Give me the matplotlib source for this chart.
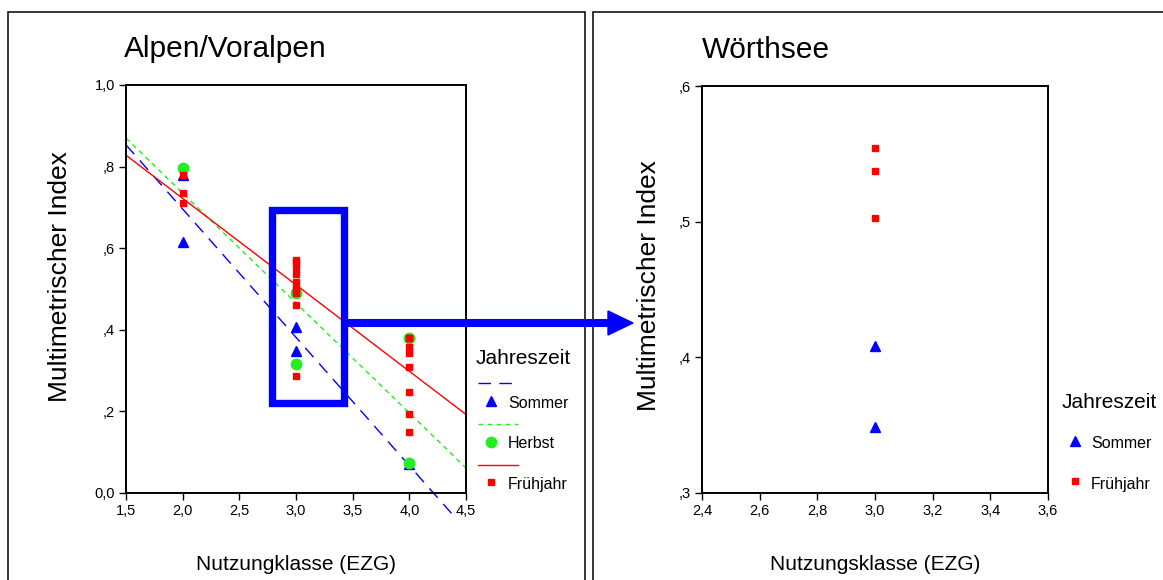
import numpy as np
import matplotlib
matplotlib.use("Agg")
import matplotlib.pyplot as plt
from matplotlib.lines import Line2D
from matplotlib.patches import Rectangle, Polygon

plt.rcParams["font.family"] = ["Liberation Sans", "DejaVu Sans"]

# -------- DATA --------
# Alpen/Voralpen
sommer_x = [2, 2, 3, 3, 4]
sommer_y = [0.780, 0.615, 0.408, 0.349, 0.070]
herbst_x = [2, 3, 3, 4, 4]
herbst_y = [0.797, 0.491, 0.316, 0.381, 0.073]
fruehjahr_x = [2, 2, 2,
               3, 3, 3, 3, 3, 3, 3, 3, 3, 3,
               4, 4, 4, 4, 4, 4, 4, 4, 4]
fruehjahr_y = [0.780, 0.735, 0.710,
               0.571, 0.565, 0.554, 0.537, 0.518, 0.503, 0.497, 0.491, 0.460, 0.287,
               0.381, 0.381, 0.381, 0.359, 0.344, 0.308, 0.247, 0.194, 0.149]

# Woerthsee
w_sommer_x = [3, 3]
w_sommer_y = [0.408, 0.349]
w_fruehjahr_x = [3, 3, 3]
w_fruehjahr_y = [0.554, 0.537, 0.503]

left_xticks = [1.5, 2.0, 2.5, 3.0, 3.5, 4.0, 4.5]
left_xlabels = ["1,5", "2,0", "2,5", "3,0", "3,5", "4,0", "4,5"]
left_yticks = [0.0, 0.2, 0.4, 0.6, 0.8, 1.0]
left_ylabels = ["0,0", ",2", ",4", ",6", ",8", "1,0"]
right_xticks = [2.4, 2.6, 2.8, 3.0, 3.2, 3.4, 3.6]
right_xlabels = ["2,4", "2,6", "2,8", "3,0", "3,2", "3,4", "3,6"]
right_yticks = [0.3, 0.4, 0.5, 0.6]
right_ylabels = [",3", ",4", ",5", ",6"]

BLUE = "#0000ff"
GREEN = "#22ee22"
RED = "#ff0000"

W, H = 1163, 580


def fx(px):
    return px / W


def fy(py):
    return 1 - py / H


fig = plt.figure(figsize=(W / 100, H / 100), dpi=100)
fig.patch.set_facecolor("white")

# -------- PANEL FRAMES --------
fig.add_artist(Rectangle((fx(8), fy(620)), fx(585) - fx(8), fy(12) - fy(620),
                         transform=fig.transFigure, fill=False, lw=1.1,
                         edgecolor="black"))
fig.add_artist(Rectangle((fx(593), fy(620)), fx(1190) - fx(593), fy(12) - fy(620),
                         transform=fig.transFigure, fill=False, lw=1.1,
                         edgecolor="black"))


def style_axes(ax):
    for s in ax.spines.values():
        s.set_linewidth(1.4)
    ax.tick_params(direction="out", length=5, width=1.0, labelsize=10.5,
                   top=False, right=False, pad=3)


# -------- LEFT PANEL --------
ax1 = fig.add_axes([fx(126), fy(493), fx(466) - fx(126), fy(85) - fy(493)])
style_axes(ax1)
ax1.set_xlim(1.5, 4.5)
ax1.set_ylim(0, 1.0)
ax1.set_xticks(left_xticks)
ax1.set_xticklabels(left_xlabels)
ax1.set_yticks(left_yticks)
ax1.set_yticklabels(left_ylabels)

# linear fits per season
m, b = np.polyfit(sommer_x, sommer_y, 1)
x_end = min(4.5, (-0.05 - b) / m)
xs = np.array([1.5, x_end])
ax1.plot(xs, m * xs + b, color=BLUE, lw=1.0, dashes=(9, 6), clip_on=False, zorder=2)

m, b = np.polyfit(herbst_x, herbst_y, 1)
xs = np.array([1.5, 4.5])
ax1.plot(xs, m * xs + b, color=GREEN, lw=1.0, dashes=(3.5, 3), zorder=2)

m, b = np.polyfit(fruehjahr_x, fruehjahr_y, 1)
ax1.plot(xs, m * xs + b, color=RED, lw=1.0, zorder=2)

ax1.plot(sommer_x, sommer_y, "^", color=BLUE, ms=7, mec=BLUE, zorder=3)
ax1.plot(herbst_x, herbst_y, "o", color=GREEN, ms=7.5, mec=GREEN, zorder=4)
ax1.plot(fruehjahr_x, fruehjahr_y, "s", color=RED, ms=5, mec=RED, zorder=5)

ax1.set_xlabel("Nutzungklasse (EZG)", fontsize=15)
ax1.xaxis.set_label_coords(0.5, -0.152)
ax1.set_ylabel("Multimetrischer Index", fontsize=19)
ax1.yaxis.set_label_coords(-0.159, 0.53)

# highlight box around x = 3
ax1.add_patch(Rectangle((2.786, 0.221), 3.421 - 2.786, 0.693 - 0.221,
                        fill=False, edgecolor=BLUE, lw=5.3, clip_on=False,
                        joinstyle="miter", zorder=6))

# -------- RIGHT PANEL --------
ax2 = fig.add_axes([fx(702), fy(493), fx(1048) - fx(702), fy(86) - fy(493)])
style_axes(ax2)
ax2.set_xlim(2.4, 3.6)
ax2.set_ylim(0.3, 0.6)
ax2.set_xticks(right_xticks)
ax2.set_xticklabels(right_xlabels)
ax2.set_yticks(right_yticks)
ax2.set_yticklabels(right_ylabels)

ax2.plot(w_sommer_x, w_sommer_y, "^", color=BLUE, ms=7, mec=BLUE, zorder=3)
ax2.plot(w_fruehjahr_x, w_fruehjahr_y, "s", color=RED, ms=5, mec=RED, zorder=5)

ax2.set_xlabel("Nutzungsklasse (EZG)", fontsize=15)
ax2.xaxis.set_label_coords(0.5, -0.152)
ax2.set_ylabel("Multimetrischer Index", fontsize=19)
ax2.yaxis.set_label_coords(-0.118, 0.51)

# -------- TITLES --------
fig.text(fx(124), fy(49), "Alpen/Voralpen", fontsize=21.5, ha="left", va="center")
fig.text(fx(702), fy(50), "Wörthsee", fontsize=21.5, ha="left", va="center")

# -------- ARROW --------
fig.add_artist(Line2D([fx(347), fx(610)], [fy(323), fy(323)], color=BLUE,
                      lw=5.8, solid_capstyle="butt", transform=fig.transFigure))
fig.add_artist(Polygon([(fx(608), fy(311)), (fx(633), fy(323)), (fx(608), fy(335))],
                       closed=True, color=BLUE, transform=fig.transFigure))

# -------- LEGENDS --------
def legend_line(x0, x1, y, **kw):
    fig.add_artist(Line2D([fx(x0), fx(x1)], [fy(y), fy(y)],
                          transform=fig.transFigure, lw=1.0, **kw))


def legend_marker(x, y, marker, color, ms):
    fig.add_artist(Line2D([fx(x)], [fy(y)], marker=marker, color=color, mec=color,
                          ms=ms, linestyle="none", transform=fig.transFigure))


fig.text(fx(476), fy(359), "Jahreszeit", fontsize=15, ha="left", va="center")
legend_line(478, 518, 383, color=BLUE, dashes=(9, 6))
legend_marker(491, 401, "^", BLUE, 7)
fig.text(fx(508), fy(404), "Sommer", fontsize=11.5, ha="left", va="center")
legend_line(478, 518, 424, color=GREEN, dashes=(3.5, 3))
legend_marker(491, 442, "o", GREEN, 7.5)
fig.text(fx(508), fy(444), "Herbst", fontsize=11.5, ha="left", va="center")
legend_line(478, 518, 465, color=RED)
legend_marker(491, 482, "s", RED, 5)
fig.text(fx(508), fy(485), "Frühjahr", fontsize=11.5, ha="left", va="center")

fig.text(fx(1062), fy(402), "Jahreszeit", fontsize=15, ha="left", va="center")
legend_marker(1075, 441, "^", BLUE, 7)
fig.text(fx(1091), fy(444), "Sommer", fontsize=11.5, ha="left", va="center")
legend_marker(1075, 481, "s", RED, 5)
fig.text(fx(1091), fy(484), "Frühjahr", fontsize=11.5, ha="left", va="center")

fig.savefig("out.png", dpi=100, facecolor="white")
